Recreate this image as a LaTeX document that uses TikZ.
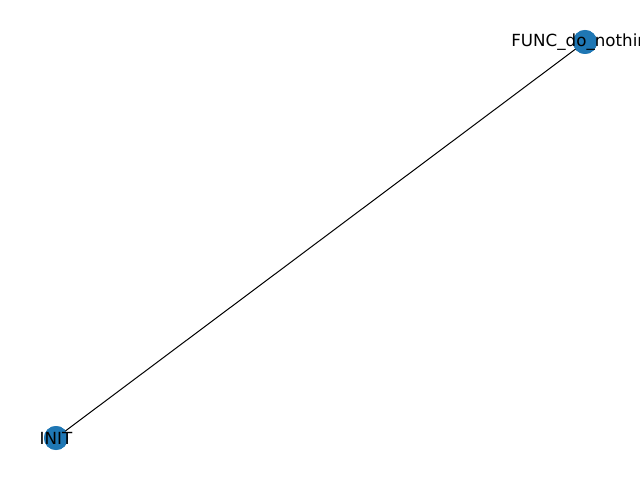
\documentclass[tikz,border=0pt]{standalone}
\usepackage{fontspec}
\setmainfont{DejaVu Sans}

\begin{document}
\begin{tikzpicture}[x=1pt,y=1pt,
    vert/.style={circle, fill={rgb,255:red,31;green,119;blue,180}, minimum size=24pt, inner sep=0pt},
    lbl/.style={font=\fontsize{16.7}{20}\selectfont, inner sep=0pt, text=black}]
  \useasboundingbox (0,0) rectangle (640,480);

  % Vertices
  \node[vert] (init) at (56, 42) {};
  \node[vert] (func) at (585, 438) {};

  % Edge
  \draw[line width=1pt] (init.center) -- (func.center);
  \node[vert] at (init) {};
  \node[vert] at (func) {};

  % Labels
  \node[lbl] (initlbl) at (init) {INIT};
  \node[lbl] (funclbl) at (func) {FUNC\_do\_nothing};
\end{tikzpicture}
\end{document}
